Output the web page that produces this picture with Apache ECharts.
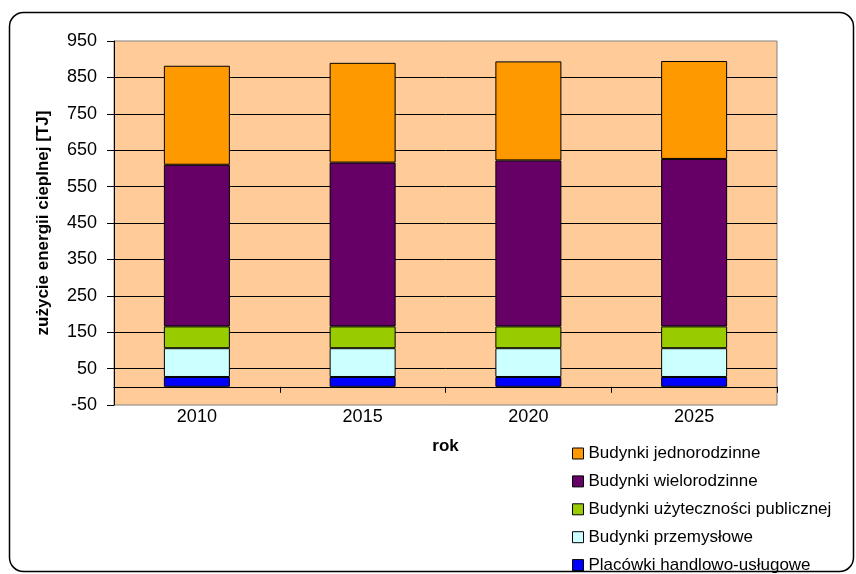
<!DOCTYPE html>
<html>
<head>
<meta charset="utf-8">
<script src="https://cdn.jsdelivr.net/npm/echarts@6/dist/echarts.min.js"></script>
<style>
  html, body { margin: 0; padding: 0; background: #fff; }
  #main { width: 856px; height: 574px; }
</style>
</head>
<body>
<div id="main"></div>
<script>
// dane (TJ)
var lata = ['2010', '2015', '2020', '2025'];
var placowki = [27, 27, 27, 27];
var przemyslowe = [79, 79, 79, 79];
var uzytecznosci = [60, 60, 60, 60];
var wielorodzinne = [444, 450, 456, 460];
var jednorodzinne = [272, 274, 272, 269];

var legendOrder = [
    'Budynki jednorodzinne',
    'Budynki wielorodzinne',
    'Budynki użyteczności publicznej',
    'Budynki przemysłowe',
    'Placówki handlowo-usługowe'
];

var font = 'Liberation Sans, Arial, sans-serif';

function bar(name, data, color) {
    return {
        name: name,
        type: 'bar',
        stack: 'total',
        barWidth: 66,
        data: data,
        itemStyle: {color: color, borderColor: '#000', borderWidth: 1}
    };
}

var myChart = echarts.init(document.getElementById('main'));

var option = {
    animation: false,
    textStyle: {fontFamily: font},
    graphic: [{
        type: 'rect',
        shape: {x: 9.5, y: 12.5, width: 844, height: 559, r: 14},
        style: {fill: 'none', stroke: '#000', lineWidth: 1.5},
        z: 0
    }],
    grid: {
        left: 114, right: 79, top: 41, bottom: 169,
        show: true,
        backgroundColor: '#FFCC99',
        borderColor: '#808080',
        borderWidth: 1
    },
    legend: {
        orient: 'vertical',
        left: 572,
        top: 445,
        width: 280,
        height: 200,
        padding: 0,
        itemWidth: 11,
        itemHeight: 11,
        itemGap: 10.9,
        icon: 'rect',
        itemStyle: {borderColor: '#000', borderWidth: 1},
        textStyle: {fontFamily: font, fontSize: 17, lineHeight: 16, color: '#000'},
        data: legendOrder
    },
    xAxis: [{
        type: 'category',
        data: lata,
        position: 'bottom',
        axisLine: {onZero: false, show: false},
        axisTick: {show: false},
        axisLabel: {fontSize: 18, color: '#000', margin: 3},
        name: 'rok',
        nameLocation: 'middle',
        nameGap: 33,
        nameTextStyle: {fontSize: 17, fontWeight: 'bold', color: '#000'}
    }, {
        type: 'category',
        data: lata,
        position: 'bottom',
        axisLine: {onZero: true, lineStyle: {color: '#000', width: 1}},
        axisTick: {show: true, length: 6, lineStyle: {color: '#000'}},
        axisLabel: {show: false}
    }],
    yAxis: {
        type: 'value',
        min: -50,
        max: 950,
        interval: 100,
        axisLine: {show: true, lineStyle: {color: '#000'}},
        axisTick: {show: true, length: 7, lineStyle: {color: '#000'}},
        axisLabel: {fontSize: 18, color: '#000', margin: 17},
        splitLine: {show: true, showMinLine: false, showMaxLine: false, lineStyle: {color: '#000', width: 1}},
        name: 'zużycie energii cieplnej [TJ]',
        nameLocation: 'middle',
        nameGap: 62,
        nameTextStyle: {fontSize: 17, fontWeight: 'bold', color: '#000'}
    },
    series: [
        bar('Placówki handlowo-usługowe', placowki, '#0000FF'),
        bar('Budynki przemysłowe', przemyslowe, '#CCFFFF'),
        bar('Budynki użyteczności publicznej', uzytecznosci, '#99CC00'),
        bar('Budynki wielorodzinne', wielorodzinne, '#660066'),
        bar('Budynki jednorodzinne', jednorodzinne, '#FF9900')
    ]
};
myChart.setOption(option);
</script>
</body>
</html>
